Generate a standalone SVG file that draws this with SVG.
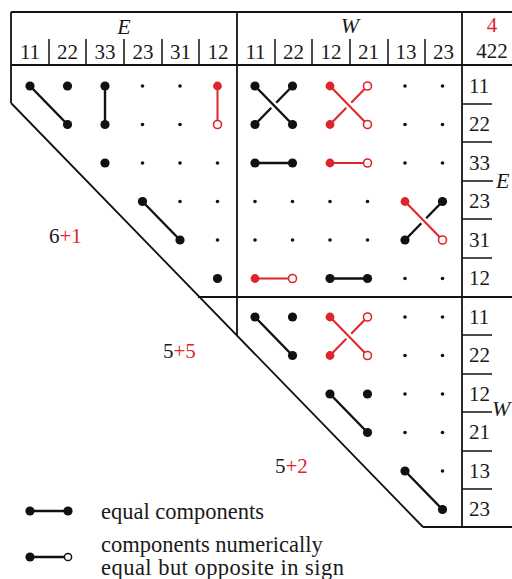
<svg xmlns="http://www.w3.org/2000/svg" width="512" height="579" viewBox="0 0 512 579">
<style>
.frame{stroke:#111;stroke-width:1.8;fill:none}
.thin{stroke:#111;stroke-width:1.5;fill:none}
.t{font-family:"Liberation Serif","Times New Roman",serif;font-size:21px;fill:#1a1a1a}
.ti{font-family:"Liberation Serif","Times New Roman",serif;font-size:22px;font-style:italic;fill:#1a1a1a}
.lg{font-family:"Liberation Serif","Times New Roman",serif;font-size:22.5px;fill:#1a1a1a}
.red{fill:#e0242b}
.b{fill:#111}
.s{fill:#111}
.rf{fill:#e0242b}
.ro{fill:#fff;stroke:#e0242b;stroke-width:1.6}
.bo{fill:#fff;stroke:#111;stroke-width:1.5}
.lb{stroke:#111;stroke-width:2.4;fill:none}
.lr{stroke:#e0242b;stroke-width:2;fill:none}
.halo{stroke:#fff;stroke-width:7;fill:none}
</style>
<defs>
<circle id="B" r="4.6" class="b"/>
<circle id="S" r="1.8" class="s"/>
<circle id="R" r="4.4" class="rf"/>
<circle id="O" r="4" class="ro"/>
</defs>

<g id="frame">
<line class="frame" x1="11" y1="12" x2="512" y2="12"/>
<line class="frame" x1="11" y1="65" x2="512" y2="65"/>
<line class="frame" x1="11" y1="12" x2="11" y2="103"/>
<line class="frame" x1="11" y1="103" x2="423" y2="527"/>
<line class="frame" x1="423" y1="527" x2="512" y2="527"/>
<line class="frame" x1="237" y1="12" x2="237" y2="336"/>
<line class="frame" x1="462" y1="12" x2="462" y2="527"/>
<line class="frame" x1="198" y1="297" x2="512" y2="297"/>
<g class="thin">
<line x1="49" y1="39" x2="49" y2="65"/>
<line x1="86" y1="39" x2="86" y2="65"/>
<line x1="124" y1="39" x2="124" y2="65"/>
<line x1="162" y1="39" x2="162" y2="65"/>
<line x1="199" y1="39" x2="199" y2="65"/>
<line x1="275" y1="39" x2="275" y2="65"/>
<line x1="312" y1="39" x2="312" y2="65"/>
<line x1="350" y1="39" x2="350" y2="65"/>
<line x1="388" y1="39" x2="388" y2="65"/>
<line x1="425" y1="39" x2="425" y2="65"/>
<line x1="462" y1="104" x2="492" y2="104"/>
<line x1="462" y1="142" x2="492" y2="142"/>
<line x1="462" y1="181" x2="493" y2="181"/>
<line x1="462" y1="219" x2="492" y2="219"/>
<line x1="462" y1="258" x2="492" y2="258"/>
<line x1="462" y1="335" x2="492" y2="335"/>
<line x1="462" y1="374" x2="492" y2="374"/>
<line x1="462" y1="412" x2="492" y2="412"/>
<line x1="462" y1="451" x2="492" y2="451"/>
<line x1="462" y1="489" x2="492" y2="489"/>
</g>
</g>

<g id="header">
<text class="ti" x="124" y="34" text-anchor="middle">E</text>
<text class="ti" x="350" y="33" text-anchor="middle">W</text>
<text class="t red" x="492" y="32" text-anchor="middle">4</text>
<text class="t" x="492" y="58" text-anchor="middle">422</text>
<g class="t" text-anchor="middle">
<text x="30" y="59">11</text>
<text x="67.5" y="59">22</text>
<text x="105" y="59">33</text>
<text x="143" y="59">23</text>
<text x="180.5" y="59">31</text>
<text x="218" y="59">12</text>
<text x="255.5" y="59">11</text>
<text x="293.5" y="59">22</text>
<text x="331" y="59">12</text>
<text x="368.5" y="59">21</text>
<text x="406" y="59">13</text>
<text x="443.5" y="59">23</text>
</g>
</g>

<g id="row-labels" class="t">
<text x="469" y="93">11</text>
<text x="469" y="131">22</text>
<text x="469" y="170">33</text>
<text x="469" y="208">23</text>
<text x="469" y="247">31</text>
<text x="469" y="285">12</text>
<text x="469" y="324">11</text>
<text x="469" y="362">22</text>
<text x="469" y="401">12</text>
<text x="469" y="439">21</text>
<text x="469" y="478">13</text>
<text x="469" y="516">23</text>
<text class="ti" x="496" y="188">E</text>
<text class="ti" x="492" y="416">W</text>
</g>

<g id="connectors">
<line class="lb" x1="30" y1="86" x2="67.5" y2="124.5"/>
<line class="lb" x1="105" y1="86" x2="105" y2="124.5"/>
<line class="lr" x1="217.5" y1="86" x2="217.5" y2="124.5"/>
<line class="lb" x1="142.5" y1="201.5" x2="180" y2="240"/>
<line class="lb" x1="255" y1="124.5" x2="292.5" y2="86"/>
<line class="halo" x1="262" y1="93.2" x2="285.5" y2="117.3"/>
<line class="lb" x1="255" y1="86" x2="292.5" y2="124.5"/>
<line class="lr" x1="330" y1="124.5" x2="367.5" y2="86"/>
<line class="halo" x1="337" y1="93.2" x2="360.5" y2="117.3"/>
<line class="lr" x1="330" y1="86" x2="367.5" y2="124.5"/>
<line class="lb" x1="255" y1="163" x2="292.5" y2="163"/>
<line class="lr" x1="330" y1="163" x2="367.5" y2="163"/>
<line class="lb" x1="405" y1="240" x2="442.5" y2="201.5"/>
<line class="halo" x1="412" y1="208.7" x2="435.5" y2="232.8"/>
<line class="lr" x1="405" y1="201.5" x2="442.5" y2="240"/>
<line class="lr" x1="255" y1="278.5" x2="292.5" y2="278.5"/>
<line class="lb" x1="330" y1="278.5" x2="367.5" y2="278.5"/>
<line class="lb" x1="255" y1="317" x2="292.5" y2="355.5"/>
<line class="lr" x1="330" y1="355.5" x2="367.5" y2="317"/>
<line class="halo" x1="337" y1="324.2" x2="360.5" y2="348.3"/>
<line class="lr" x1="330" y1="317" x2="367.5" y2="355.5"/>
<line class="lb" x1="330" y1="394" x2="367.5" y2="432.5"/>
<line class="lb" x1="405" y1="471" x2="442.5" y2="509.5"/>
</g>

<g id="row-E11">
<use href="#B" x="30" y="86"/><use href="#B" x="67.5" y="86"/><use href="#B" x="105" y="86"/>
<use href="#S" x="142.5" y="86"/><use href="#S" x="180" y="86"/><use href="#R" x="217.5" y="86"/>
<use href="#B" x="255" y="86"/><use href="#B" x="292.5" y="86"/><use href="#R" x="330" y="86"/>
<use href="#O" x="367.5" y="86"/><use href="#S" x="405" y="86"/><use href="#S" x="442.5" y="86"/>
</g>
<g id="row-E22">
<use href="#B" x="67.5" y="124.5"/><use href="#B" x="105" y="124.5"/>
<use href="#S" x="142.5" y="124.5"/><use href="#S" x="180" y="124.5"/><use href="#O" x="217.5" y="124.5"/>
<use href="#B" x="255" y="124.5"/><use href="#B" x="292.5" y="124.5"/><use href="#R" x="330" y="124.5"/>
<use href="#O" x="367.5" y="124.5"/><use href="#S" x="405" y="124.5"/><use href="#S" x="442.5" y="124.5"/>
</g>
<g id="row-E33">
<use href="#B" x="105" y="163"/>
<use href="#S" x="142.5" y="163"/><use href="#S" x="180" y="163"/><use href="#S" x="217.5" y="163"/>
<use href="#B" x="255" y="163"/><use href="#B" x="292.5" y="163"/><use href="#R" x="330" y="163"/>
<use href="#O" x="367.5" y="163"/><use href="#S" x="405" y="163"/><use href="#S" x="442.5" y="163"/>
</g>
<g id="row-E23">
<use href="#B" x="142.5" y="201.5"/><use href="#S" x="180" y="201.5"/><use href="#S" x="217.5" y="201.5"/>
<use href="#S" x="255" y="201.5"/><use href="#S" x="292.5" y="201.5"/><use href="#S" x="330" y="201.5"/>
<use href="#S" x="367.5" y="201.5"/><use href="#R" x="405" y="201.5"/><use href="#B" x="442.5" y="201.5"/>
</g>
<g id="row-E31">
<use href="#B" x="180" y="240"/><use href="#S" x="217.5" y="240"/>
<use href="#S" x="255" y="240"/><use href="#S" x="292.5" y="240"/><use href="#S" x="330" y="240"/>
<use href="#S" x="367.5" y="240"/><use href="#B" x="405" y="240"/><use href="#O" x="442.5" y="240"/>
</g>
<g id="row-E12">
<use href="#B" x="217.5" y="278.5"/>
<use href="#R" x="255" y="278.5"/><use href="#O" x="292.5" y="278.5"/><use href="#B" x="330" y="278.5"/>
<use href="#B" x="367.5" y="278.5"/><use href="#S" x="405" y="278.5"/><use href="#S" x="442.5" y="278.5"/>
</g>
<g id="row-W11">
<use href="#B" x="255" y="317"/><use href="#B" x="292.5" y="317"/><use href="#R" x="330" y="317"/>
<use href="#O" x="367.5" y="317"/><use href="#S" x="405" y="317"/><use href="#S" x="442.5" y="317"/>
</g>
<g id="row-W22">
<use href="#B" x="292.5" y="355.5"/><use href="#R" x="330" y="355.5"/>
<use href="#O" x="367.5" y="355.5"/><use href="#S" x="405" y="355.5"/><use href="#S" x="442.5" y="355.5"/>
</g>
<g id="row-W12">
<use href="#B" x="330" y="394"/><use href="#B" x="367.5" y="394"/>
<use href="#S" x="405" y="394"/><use href="#S" x="442.5" y="394"/>
</g>
<g id="row-W21">
<use href="#B" x="367.5" y="432.5"/><use href="#S" x="405" y="432.5"/><use href="#S" x="442.5" y="432.5"/>
</g>
<g id="row-W13">
<use href="#B" x="405" y="471"/><use href="#S" x="442.5" y="471"/>
</g>
<g id="row-W23">
<use href="#B" x="442.5" y="509.5"/>
</g>

<g id="counts" class="t">
<text x="49" y="243">6<tspan class="red">+1</tspan></text>
<text x="163" y="358">5<tspan class="red">+5</tspan></text>
<text x="275" y="473">5<tspan class="red">+2</tspan></text>
</g>

<g id="legend">
<line class="lb" x1="30" y1="511" x2="68" y2="511"/>
<use href="#B" x="30" y="511"/><use href="#B" x="68" y="511"/>
<text class="lg" x="101" y="519">equal components</text>
<line class="lb" x1="30" y1="557" x2="64" y2="557"/>
<use href="#B" x="30" y="557"/>
<circle cx="68" cy="557" r="3.6" class="bo"/>
<text class="lg" x="101" y="552">components numerically</text>
<text class="lg" x="101" y="575" textLength="243" lengthAdjust="spacing">equal but opposite in sign</text>
</g>
</svg>
